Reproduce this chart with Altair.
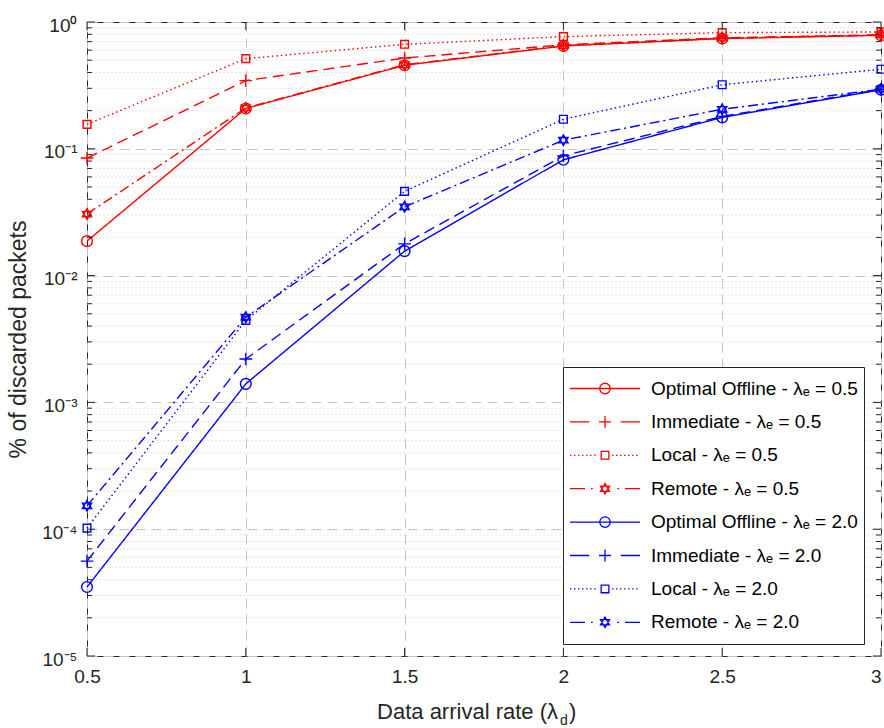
import altair as alt
import pandas as pd

# ---------------- data ----------------
x_vals = [0.5, 1.0, 1.5, 2.0, 2.5, 3.0]

red_optimal = [0.0187, 0.208, 0.456, 0.647, 0.74, 0.785]
red_immediate = [0.0845, 0.345, 0.52, 0.66, 0.75, 0.79]
red_local = [0.156, 0.514, 0.667, 0.767, 0.824, 0.835]
red_remote = [0.0306, 0.21, 0.46, 0.65, 0.745, 0.79]

blue_optimal = [3.5e-5, 1.40e-3, 0.0156, 0.0819, 0.177, 0.292]
blue_immediate = [5.6e-5, 2.2e-3, 0.0178, 0.088, 0.18, 0.295]
blue_local = [1.02e-4, 4.44e-3, 0.0462, 0.171, 0.32, 0.424]
blue_remote = [1.53e-4, 4.7e-3, 0.0349, 0.117, 0.205, 0.295]

methods = ["Optimal Offline", "Immediate", "Local", "Remote"]
lambdas = ["0.5", "2.0"]

series_values = {
    ("Optimal Offline", "0.5"): red_optimal,
    ("Immediate", "0.5"): red_immediate,
    ("Local", "0.5"): red_local,
    ("Remote", "0.5"): red_remote,
    ("Optimal Offline", "2.0"): blue_optimal,
    ("Immediate", "2.0"): blue_immediate,
    ("Local", "2.0"): blue_local,
    ("Remote", "2.0"): blue_remote,
}

x_ticks = [0.5, 1.0, 1.5, 2.0, 2.5, 3.0]
y_decades = [1e-5, 1e-4, 1e-3, 1e-2, 1e-1, 1.0]
y_minor = [m * d for d in [1e-5, 1e-4, 1e-3, 1e-2, 1e-1] for m in range(2, 10)]

# ---------------- styling ----------------
def label_of(method, lam):
    return f"{method} - \u03bb\u2091 = {lam}"

labels = [label_of(m, l) for l in lambdas for m in methods]
color_of_lambda = {"0.5": "#ff0000", "2.0": "#0000ff"}
colors = [color_of_lambda[l] for l in lambdas for m in methods]
dash_by_method = {
    "Optimal Offline": [1, 0],
    "Immediate": [11, 6],
    "Local": [1.5, 3],
    "Remote": [10, 4, 2, 4],
}

plus_path = "M-1,0L1,0M0,-1L0,1"
hexa_path = "M0,-1L0.866,0.5L-0.866,0.5ZM0,1L0.866,-0.5L-0.866,-0.5Z"
marker_shape = {"Optimal Offline": ("circle", 115), "Immediate": (plus_path, 160),
                "Local": ("square", 60), "Remote": (hexa_path, 115)}

def dots(a, b, step=0.115, ln=0.04):
    out = []
    p = a
    while p + ln <= b + 1e-9:
        out.append(f"M{p:.3f},0L{p + ln:.3f},0")
        p += step
    return "".join(out)

r = 0.15
circ = f"M{r},0A{r},{r} 0 1 1 -{r},0A{r},{r} 0 1 1 {r},0"
plus_s = "M-0.17,0L0.17,0M0,-0.17L0,0.17"
sq = "M-0.11,-0.11L0.11,-0.11L0.11,0.11L-0.11,0.11Z"
hexs = "M0,-0.15L0.13,0.075L-0.13,0.075ZM0,0.15L0.13,-0.075L-0.13,-0.075Z"
legend_paths_m = {
    "Optimal Offline": "M-1,0L1,0" + circ,
    "Immediate": "M-1,0L-0.45,0M0.45,0L1,0" + plus_s,
    "Local": dots(-1, -0.2) + dots(0.2, 1) + sq,
    "Remote": "M-1,0L-0.57,0M-0.4,0L-0.35,0M0.35,0L0.4,0M0.57,0L1,0" + hexs,
}
legend_paths = [legend_paths_m[m] for l in lambdas for m in methods]

rows = []
for lam in lambdas:
    for m in methods:
        for xv, yv in zip(x_vals, series_values[(m, lam)]):
            rows.append({"x": xv, "y": yv, "method": m, "lam": lam, "series": label_of(m, lam)})
df = pd.DataFrame(rows)

W, H = 794, 634
AX = "#262626"
FONT = "Liberation Sans"

xscale = alt.Scale(domain=[0.5, 3], nice=False, zero=False)
yscale = alt.Scale(type="log", domain=[1e-5, 1], nice=False)

y_label_expr = (
    "datum.value >= 0.5 ? '10\u2070' : datum.value >= 0.05 ? '10\u207b\u00b9' : "
    "datum.value >= 0.005 ? '10\u207b\u00b2' : datum.value >= 0.0005 ? '10\u207b\u00b3' : "
    "datum.value >= 0.00005 ? '10\u207b\u2074' : '10\u207b\u2075'"
)

x_axis = alt.Axis(values=x_ticks, format="~g", title=None, ticks=False, domain=False,
                  grid=True, gridDash=[10, 6], gridColor="#c4c4c4", gridWidth=1,
                  labelFontSize=19, labelColor=AX, labelPadding=11, labelFlush=False,
                  labelAlign={"condition": {"test": "datum.value >= 2.99", "value": "right"},
                              "value": "center"})
y_axis = alt.Axis(values=y_decades, labelExpr=y_label_expr,
                  title="% of discarded packets", titleFontSize=23, titleFontWeight="normal",
                  titleColor=AX, titlePadding=11,
                  ticks=False, domain=False, grid=True, gridDash=[10, 6], gridColor="#c4c4c4",
                  labelFontSize=19, labelColor=AX, labelPadding=10, labelOffset=3)

X = alt.X("x:Q", scale=xscale, axis=x_axis)
Y = alt.Y("y:Q", scale=yscale, axis=y_axis)

minor_df = pd.DataFrame({"y": y_minor})
major_df = pd.DataFrame({"y": y_decades})
xtick_df = pd.DataFrame({"x": x_ticks})

# legend-only layer (size 0 points): the library legend with line+marker glyphs
legend_layer = alt.Chart(df).mark_point(size=0, filled=False, strokeWidth=1.3, opacity=1).encode(
    x=X, y=Y,
    color=alt.Color("series:N", scale=alt.Scale(domain=labels, range=colors),
                    legend=alt.Legend(title=None)),
    shape=alt.Shape("series:N", scale=alt.Scale(domain=labels, range=legend_paths),
                    legend=alt.Legend(title=None)),
)

minor_grid = alt.Chart(minor_df).mark_rule(color="#dcdcdc", strokeDash=[1.5, 2.5], strokeWidth=1).encode(
    y=Y
)

line_layers = []
marker_layers = []
for lam in lambdas:
    for m in methods:
        sub = alt.Chart(df).transform_filter(
            (alt.datum.method == m) & (alt.datum.lam == lam)
        )
        col = color_of_lambda[lam]
        line_layers.append(
            sub.mark_line(strokeWidth=1.4, color=col, strokeDash=dash_by_method[m]).encode(x=X, y=Y)
        )
        shp, sz = marker_shape[m]
        marker_layers.append(
            sub.mark_point(shape=shp, size=sz, filled=False, strokeWidth=1.4, opacity=1,
                           color=col).encode(x=X, y=Y)
        )

yl_major = alt.Chart(major_df).mark_rule(color=AX).encode(y=Y, x=alt.value(0), x2=alt.value(8))
yl_minor = alt.Chart(minor_df).mark_rule(color=AX).encode(y=Y, x=alt.value(0), x2=alt.value(5))
yr_major = alt.Chart(major_df).mark_rule(color=AX).encode(y=Y, x=alt.value(W), x2=alt.value(W - 8))
yr_minor = alt.Chart(minor_df).mark_rule(color=AX).encode(y=Y, x=alt.value(W), x2=alt.value(W - 5))
xb = alt.Chart(xtick_df).mark_rule(color=AX).encode(x=X, y=alt.value(H), y2=alt.value(H - 8))
xt = alt.Chart(xtick_df).mark_rule(color=AX).encode(x=X, y=alt.value(0), y2=alt.value(8))

title_main = alt.Chart(pd.DataFrame({"t": ["Data arrival rate (\u03bb"]})).mark_text(
    align="right", baseline="alphabetic", fontSize=22, font=FONT, color=AX
).encode(text="t:N", x=alt.value(471), y=alt.value(697))
title_sub = alt.Chart(pd.DataFrame({"t": ["d"]})).mark_text(
    align="left", baseline="alphabetic", fontSize=14, font=FONT, color=AX
).encode(text="t:N", x=alt.value(473), y=alt.value(703))
title_close = alt.Chart(pd.DataFrame({"t": [")"]})).mark_text(
    align="left", baseline="alphabetic", fontSize=22, font=FONT, color=AX
).encode(text="t:N", x=alt.value(482), y=alt.value(697))

chart = alt.layer(
    legend_layer, minor_grid, *line_layers, *marker_layers,
    yl_major, yl_minor, yr_major, yr_minor, xb, xt,
    title_main, title_sub, title_close,
).properties(
    width=W, height=H,
    autosize=alt.AutoSizeParams(type="none"),
    padding={"left": 87, "top": 22, "right": 3, "bottom": 72},
).configure(
    font=FONT, background="white"
).configure_view(
    stroke=AX, strokeWidth=1
).configure_legend(
    orient="none", legendX=476, legendY=345,
    symbolSize=4900, symbolStrokeWidth=1.3, symbolOffset=0, symbolOpacity=1,
    labelFontSize=19, labelFont=FONT, labelColor="#000000", labelLimit=400, labelOffset=10,
    clipHeight=31, rowPadding=2.4, padding=6,
    strokeColor=AX, fillColor="white", cornerRadius=0,
)

chart.save("out.html", embed_options={"renderer": "svg", "actions": False})
